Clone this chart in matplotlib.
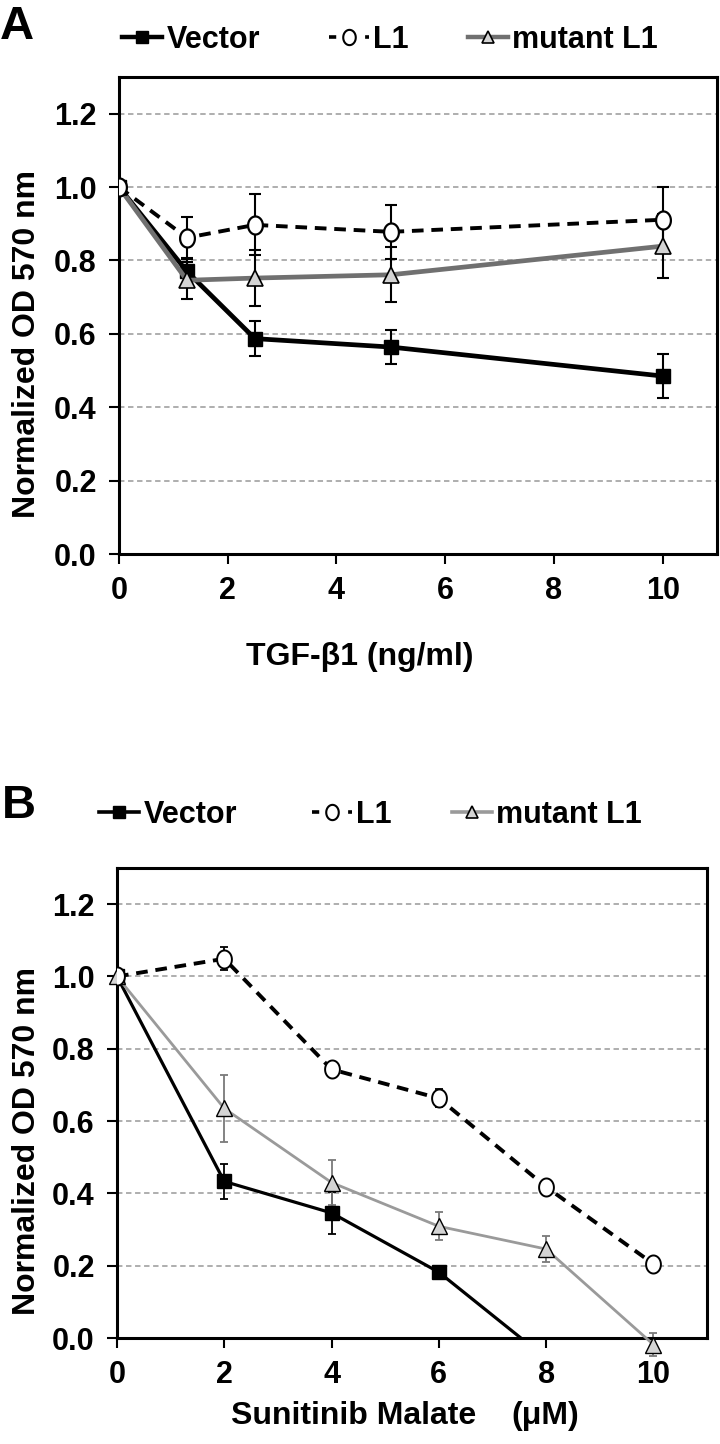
import matplotlib
matplotlib.use("Agg")
import matplotlib.pyplot as plt
from matplotlib.path import Path
import numpy as np

plt.rcParams["font.family"] = ["Liberation Sans Narrow", "Liberation Sans", "DejaVu Sans"]
plt.rcParams["font.weight"] = "bold"

# panel A: TGF-beta1 dose
tgf_dose = [0, 1.25, 2.5, 5, 10]
vec_a = [1.0, 0.77, 0.587, 0.564, 0.485]
vec_a_err = [0, 0.035, 0.047, 0.047, 0.06]
l1_a = [1.0, 0.862, 0.897, 0.878, 0.911]
l1_a_err = [0, 0.056, 0.083, 0.073, 0.088]
mut_a = [1.0, 0.746, 0.752, 0.761, 0.839]
mut_a_err = [0, 0.05, 0.076, 0.075, 0.088]

# panel B: sunitinib malate dose
su_dose = [0, 2, 4, 6, 8, 10]
vec_b = [1.0, 0.433, 0.346, 0.182, -0.056]
vec_b_err = [0, 0.049, 0.058, 0.01, 0]
l1_b = [1.0, 1.049, 0.743, 0.663, 0.418, 0.205]
l1_b_err = [0, 0.032, 0.01, 0.025, 0.01, 0.008]
mut_b = [1.0, 0.635, 0.43, 0.309, 0.246, -0.018]
mut_b_err = [0, 0.092, 0.063, 0.039, 0.037, 0.032]

series_labels = ["Vector", "L1", "mutant L1"]
yticks = [0.0, 0.2, 0.4, 0.6, 0.8, 1.0, 1.2]
xticks = [0, 2, 4, 6, 8, 10]

TICK_FS = 22
LAB_FS = 23
LEG_FS = 22
TRI_FACE = "#d4d4d4"

# slightly tall ellipse, like the open circles in the figure
_t = np.linspace(0, 2 * np.pi, 60)
ELLIPSE = Path(np.column_stack([0.82 * np.cos(_t), np.sin(_t)]), closed=True)


def errbars(ax, x, y, err, color, lw, cap, clip=True):
    x = np.asarray(x[:len(y)], dtype=float)
    y = np.asarray(y, dtype=float)
    err = np.asarray(err, dtype=float)
    m = err > 0
    eb = ax.errorbar(x[m], y[m], yerr=err[m], fmt="none", ecolor=color,
                     elinewidth=lw, capsize=cap, capthick=lw, zorder=2)
    for art in list(eb.lines[1]) + list(eb.lines[2]):
        art.set_clip_on(clip)


def style_axes(ax):
    ax.set_xlim(0, 11)
    ax.set_ylim(0, 1.3)
    ax.set_xticks(xticks)
    ax.set_yticks(yticks)
    ax.set_yticklabels(["%.1f" % v for v in yticks])
    for s in ax.spines.values():
        s.set_linewidth(2.2)
    ax.tick_params(direction="out", length=7, width=1.5, labelsize=TICK_FS, pad=9)
    ax.yaxis.grid(True, linestyle=(0, (3, 2)), color="#a8a8a8", linewidth=1.3)
    ax.set_axisbelow(True)
    ax.get_ygridlines()[0].set_visible(False)


def key_row(handles, xs_px, y_px):
    # one single-entry legend per series, placed where the figure has them
    for h, lab, x in zip(handles, series_labels, xs_px):
        fig.legend([h], [lab], loc="center left",
                   bbox_to_anchor=(x / 720, 1 - y_px / 1444), frameon=False,
                   fontsize=LEG_FS, handlelength=1.3, handletextpad=0.15,
                   borderpad=0, borderaxespad=0)


fig = plt.figure(figsize=(7.2, 14.44), dpi=100)

# ---------- panel A ----------
axa = fig.add_axes([119 / 720, 1 - 554 / 1444, 598 / 720, 477 / 1444])
style_axes(axa)
errbars(axa, tgf_dose, vec_a, vec_a_err, "black", 1.5, 4)
errbars(axa, tgf_dose, l1_a, l1_a_err, "black", 1.5, 4)
errbars(axa, tgf_dose, mut_a, mut_a_err, "black", 1.5, 4)
axa.plot(tgf_dose, vec_a, color="black", lw=3.4, marker="s", ms=10, mfc="black", mec="black", zorder=3)
axa.plot(tgf_dose, mut_a, color="#707070", lw=3.4, marker="^", ms=11, mfc=TRI_FACE, mec="black", mew=1.2, zorder=4)
axa.plot(tgf_dose, l1_a, color="black", lw=2.8, ls=(0, (3, 2)), marker=ELLIPSE, ms=13, mfc="white", mec="black",
         mew=1.6, zorder=5)

h_vec = plt.Line2D([], [], color="black", lw=3.2, marker="s", ms=9, mfc="black")
h_l1 = plt.Line2D([], [], color="black", lw=2.6, ls=(0, (2, 3)), marker=ELLIPSE, ms=11, mfc="white", mew=1.5)
h_mut = plt.Line2D([], [], color="#707070", lw=3.2, marker="^", ms=9, mfc=TRI_FACE, mec="black", mew=1.2)
key_row([h_vec, h_l1, h_mut], [122, 329, 468], 40)

fig.text(27 / 720, 1 - 344 / 1444, "Normalized OD 570 nm", rotation=90,
         ha="center", va="center", fontsize=LAB_FS, fontweight="bold")
fig.text(360 / 720, 1 - 657 / 1444, "TGF-β1 (ng/ml)", ha="center", va="center",
         fontsize=LAB_FS, fontweight="bold")
fig.text(0, 1 - 27 / 1444, "A", ha="left", va="center", fontsize=34,
         fontweight="bold", family="Liberation Sans")

# ---------- panel B ----------
axb = fig.add_axes([117 / 720, 1 - 1338 / 1444, 590 / 720, 470 / 1444])
style_axes(axb)
errbars(axb, su_dose, vec_b, vec_b_err, "black", 1.3, 3)
errbars(axb, su_dose, l1_b, l1_b_err, "black", 1.3, 3)
errbars(axb, su_dose, mut_b, mut_b_err, "#7a7a7a", 1.3, 3, clip=False)
axb.plot(su_dose[:len(vec_b)], vec_b, color="black", lw=2.3, marker="s", ms=10, mfc="black", mec="black", zorder=3)
axb.plot(su_dose, mut_b, color="#9a9a9a", lw=2.0, marker="^", ms=11, mfc=TRI_FACE, mec="black", mew=1.0,
         zorder=4, clip_on=False)
axb.plot(su_dose, l1_b, color="black", lw=2.8, ls=(0, (3, 2)), marker=ELLIPSE, ms=13, mfc="white", mec="black",
         mew=1.4, zorder=5)

h_vec_b = plt.Line2D([], [], color="black", lw=2.6, marker="s", ms=9, mfc="black")
h_l1_b = plt.Line2D([], [], color="black", lw=2.6, ls=(0, (2, 3)), marker=ELLIPSE, ms=11, mfc="white", mew=1.5)
h_mut_b = plt.Line2D([], [], color="#9a9a9a", lw=2.6, marker="^", ms=9, mfc=TRI_FACE, mec="black", mew=1.2)
key_row([h_vec_b, h_l1_b, h_mut_b], [99, 312, 452], 815)

fig.text(27 / 720, 1 - 1141 / 1444, "Normalized OD 570 nm", rotation=90,
         ha="center", va="center", fontsize=LAB_FS, fontweight="bold")
fig.text(354 / 720, 1 - 1416 / 1444, "Sunitinib Malate", ha="center", va="center",
         fontsize=LAB_FS, fontweight="bold")
fig.text(545 / 720, 1 - 1416 / 1444, "(μM)", ha="center", va="center",
         fontsize=LAB_FS, fontweight="bold")
fig.text(2 / 720, 1 - 806 / 1444, "B", ha="left", va="center", fontsize=34,
         fontweight="bold", family="Liberation Sans")

fig.savefig("out.png", dpi=100)
